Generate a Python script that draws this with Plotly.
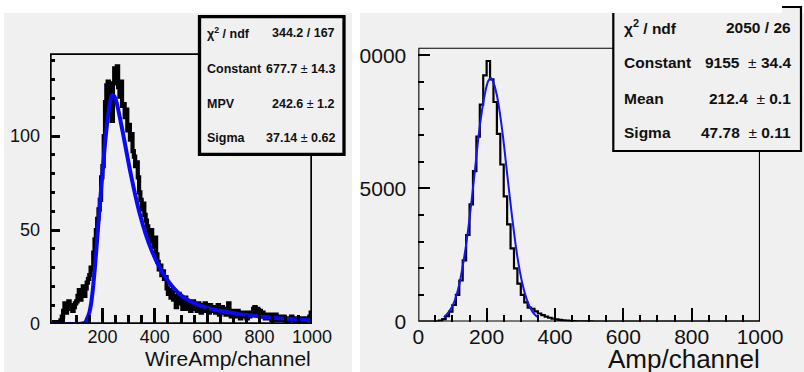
import numpy as np
import plotly.graph_objects as go

W, H = 804, 372
FONT = "Liberation Sans, Arial, Helvetica, sans-serif"
PANEL = "#f0f0f0"

# ---------------- left pad: wire amplitude, 5-unit bins over 0-1000 ----------------
wire_bin_width = 5
wire_counts = [
    0, 0, 0, 1, 0, 1, 0, 1, 2,
    4, 7, 11, 6, 9, 12, 8, 10, 7, 9, 11,
    12, 15, 18, 13, 17, 20, 15, 19, 22, 24,
    26, 30, 29, 38, 45, 50, 56, 61, 66, 78,
    84, 100, 118, 127, 129, 112, 124, 108, 128, 136, 131, 137, 126, 121, 129, 116,
    117, 110, 114, 103,
    106, 98, 101, 92,
    89, 84, 86, 78,
    70, 66, 61, 64, 58, 55,
    52, 48, 45, 50, 44, 41, 46, 37,
    33, 29, 31, 26, 28, 24, 25,
    19, 16, 18, 14, 17, 13, 15,
    9, 14, 16, 11, 13, 8, 12, 14,
    10, 8, 11, 7, 9, 12, 8, 10, 7, 11, 9, 6, 10, 8, 11, 7,
    9, 6, 10, 8, 7, 9, 6, 8, 10, 5, 7, 9, 6, 8, 5, 7, 11, 6, 4, 7,
    5, 6, 4, 7, 5, 3, 6, 5, 4, 6, 3, 5, 4, 6, 5, 8, 9, 6, 8, 5, 7, 4, 6, 5, 3, 5,
    4, 3, 5, 2, 4, 3, 5, 2, 3, 4, 2, 3, 4, 2, 3, 1, 3, 2, 4, 2,
    3, 1, 2, 3, 2, 1, 3, 2, 1, 2, 3, 2, 4, 6,
]
# Landau fit curve sampled along the drawn line
wire_fit_x = [0, 100, 125, 135, 142, 150, 157, 164, 172, 180, 190, 200, 210, 220, 228,
              236, 244, 252, 262, 275, 290, 305, 320, 340, 365, 390, 415, 450, 490,
              530, 600, 700, 800, 900, 1000]
wire_fit_y = [0, 0, 0.3, 1, 3, 6, 11, 19, 31, 45, 63, 80, 96, 109, 117,
              121.5, 121.5, 119, 113, 104, 93, 82, 72, 60, 48, 38.5, 31, 23, 16.5,
              12.5, 8.5, 5.8, 4, 2.8, 2.1]
wire_stat_names = ["χ<sup>2</sup> / ndf", "Constant", "MPV", "Sigma"]
wire_stat_values = ["344.2 / 167", "677.7 ± 14.3", "242.6 ± 1.2", "37.14 ± 0.62"]
wire_tick_labels = [200, 400, 600, 800, 1000]

# ---------------- right pad: amplitude, 10-unit bins over 0-1000 ----------------
amp_bin_width = 10
amp_counts = [
    0, 0, 0, 0, 0, 8, 30, 90, 200, 370,
    620, 1000, 1540, 2300, 3250, 4400, 5650, 6950, 8150, 9250,
    9790, 9100, 8250, 7050, 5900, 4700, 3650, 2750, 2000, 1420,
    1000, 720, 520, 480, 380, 300, 240, 185, 140, 105,
    80, 58, 42, 30, 20, 13, 8, 5, 3, 2,
    1, 0, 0, 0, 0, 0, 0, 0, 0, 0,
    0, 0, 0, 0, 0, 0, 0, 0, 0, 0,
    0, 0, 0, 0, 0, 0, 0, 0, 0, 0,
    0, 0, 0, 0, 0, 0, 0, 0, 0, 0,
    0, 0, 0, 0, 0, 0, 0, 0, 0, 0,
]
# Gaussian fit curve sampled along the drawn line
amp_fit_x = [75, 90, 105, 120, 135, 150, 165, 180, 195, 205, 212.4, 220, 230, 245,
             260, 275, 290, 305, 320, 335, 348]
amp_fit_y = [150, 370, 730, 1400, 2470, 3880, 5600, 7350, 8570, 9045, 9155, 8980, 8500, 7250,
             5560, 3880, 2430, 1400, 740, 350, 170]
amp_stat_names = ["χ<sup>2</sup> / ndf", "Constant", "Mean", "Sigma"]
amp_stat_values = ["2050 / 26", "9155  ± 34.4", "212.4  ± 0.1", "47.78  ± 0.11"]

assert len(wire_counts) == 200 and len(amp_counts) == 100


def px(x):
    return x / W


def py(y):
    return 1 - y / H


def step_xy(counts, width):
    edges = np.arange(len(counts) + 1) * width
    vals = np.append(np.asarray(counts, dtype=float), counts[-1])
    return edges, vals


fig = go.Figure()

wx, wy = step_xy(wire_counts, wire_bin_width)
fig.add_trace(go.Scatter(x=wx, y=wy, mode="lines", line=dict(shape="hv", color="black", width=4.2),
                         xaxis="x", yaxis="y", hoverinfo="skip"))
fig.add_trace(go.Scatter(x=wire_fit_x, y=wire_fit_y, mode="lines",
                         line=dict(shape="spline", smoothing=0.8, color="#0a0af0", width=4),
                         xaxis="x", yaxis="y", hoverinfo="skip"))

ax, ay = step_xy(amp_counts, amp_bin_width)
fig.add_trace(go.Scatter(x=ax, y=ay, mode="lines", line=dict(shape="hv", color="black", width=2.2),
                         xaxis="x2", yaxis="y2", hoverinfo="skip"))
fig.add_trace(go.Scatter(x=amp_fit_x, y=amp_fit_y, mode="lines",
                         line=dict(shape="spline", smoothing=0.8, color="#1414f5", width=2),
                         xaxis="x2", yaxis="y2", hoverinfo="skip"))

axis_common = dict(showgrid=False, zeroline=False, showline=False, ticks="inside",
                   tickcolor="black", fixedrange=True, automargin=False)

fig.update_layout(
    width=W, height=H, margin=dict(l=0, r=0, t=0, b=0, pad=0, autoexpand=False),
    paper_bgcolor="white", plot_bgcolor="rgba(0,0,0,0)", showlegend=False,
    xaxis=dict(**axis_common, domain=[px(50), px(312)], range=[0, 1000], anchor="y",
               tickmode="array", tickvals=wire_tick_labels,
               ticktext=[str(v) for v in wire_tick_labels],
               ticklen=16, tickwidth=3,
               minor=dict(tickmode="linear", tick0=0, dtick=50, ticks="inside",
                          ticklen=9, tickwidth=3, tickcolor="black"),
               tickfont=dict(family=FONT, size=18, color="#111")),
    yaxis=dict(**axis_common, domain=[py(324), py(53.3)], range=[0, 144], anchor="x",
               tickmode="linear", tick0=0, dtick=50, ticklen=10, tickwidth=3,
               ticklabelstandoff=9,
               minor=dict(tickmode="linear", tick0=0, dtick=10, ticks="inside",
                          ticklen=5, tickwidth=3, tickcolor="black"),
               tickfont=dict(family=FONT, size=18, color="#111")),
    xaxis2=dict(**axis_common, domain=[px(418.3), px(760)], range=[0, 1000], anchor="y2",
                tickmode="linear", tick0=0, dtick=200, ticklen=14, tickwidth=2,
                minor=dict(tickmode="linear", tick0=0, dtick=50, ticks="inside",
                           ticklen=7, tickwidth=2, tickcolor="black"),
                tickfont=dict(family=FONT, size=21, color="#111")),
    yaxis2=dict(**axis_common, domain=[py(321.5), py(47.7)], range=[0, 10290], anchor="x2",
                tickmode="linear", tick0=0, dtick=5000, tickformat="d", ticklen=12, tickwidth=2,
                ticklabelstandoff=11,
                minor=dict(tickmode="linear", tick0=0, dtick=1000, ticks="inside",
                           ticklen=6, tickwidth=2, tickcolor="black"),
                tickfont=dict(family=FONT, size=21, color="#111")),
)


def prect(x0, y0, x1, y1, fill=None, line_color=None, line_width=0, layer="above"):
    return dict(type="rect", xref="paper", yref="paper",
                x0=px(x0), x1=px(x1), y0=py(y1), y1=py(y0),
                fillcolor=fill if fill else "rgba(0,0,0,0)",
                line=dict(color=line_color if line_color else "rgba(0,0,0,0)", width=line_width),
                layer=layer)


shapes = [
    # pad backgrounds
    prect(4, 13, 352, 372, fill=PANEL, layer="below"),
    prect(360, 13, 804, 372, fill=PANEL, layer="below"),
    # frames
    dict(type="rect", xref="x", yref="y", x0=0, x1=1000, y0=0, y1=144,
         line=dict(color="black", width=3.4), layer="above"),
    dict(type="rect", xref="x2", yref="y2", x0=0, x1=1000, y0=0, y1=10290,
         line=dict(color="black", width=2.2), layer="above"),
    # the right pad is trimmed on its left edge
    prect(346, 13, 352, 372, fill=PANEL, layer="above"),
    prect(352, 0, 360, 372, fill="white", layer="above"),
    # stat boxes
    prect(199.5, 16.7, 344, 154.3, fill=PANEL, line_color="black", line_width=3.3),
    prect(613.3, 7, 801, 151, fill=PANEL, line_color="black", line_width=2.2),
    # blank strip across the top
    prect(0, 0, 782, 13, fill="white", layer="above"),
    prect(0, 0, 4, 372, fill="white", layer="above"),
]
fig.update_layout(shapes=shapes)

annotations = []
wire_rows = [33, 69, 104, 138]
for name, val, yy in zip(wire_stat_names, wire_stat_values, wire_rows):
    annotations.append(dict(xref="paper", yref="paper", x=px(205), y=py(yy), xanchor="left",
                            yanchor="middle", showarrow=False, text=f"<b>{name}</b>",
                            font=dict(family=FONT, size=12.5, color="#111")))
    annotations.append(dict(xref="paper", yref="paper", x=px(337), y=py(yy), xanchor="right",
                            yanchor="middle", showarrow=False,
                            text="<b>" + val.replace("±", "</b>±<b>") + "</b>",
                            font=dict(family=FONT, size=12.5, color="#111")))
amp_rows = [27, 62.3, 98.3, 132.3]
for name, val, yy in zip(amp_stat_names, amp_stat_values, amp_rows):
    annotations.append(dict(xref="paper", yref="paper", x=px(622), y=py(yy), xanchor="left",
                            yanchor="middle", showarrow=False, text=f"<b>{name}</b>",
                            font=dict(family=FONT, size=15.5, color="#111")))
    annotations.append(dict(xref="paper", yref="paper", x=px(793), y=py(yy), xanchor="right",
                            yanchor="middle", showarrow=False,
                            text="<b>" + val.replace("±", "</b>±<b>") + "</b>",
                            font=dict(family=FONT, size=15.5, color="#111")))

# axis titles, right-aligned to the end of each axis
annotations.append(dict(xref="paper", yref="paper", x=px(313), y=py(358), xanchor="right",
                        yanchor="middle", showarrow=False, text="WireAmp/channel",
                        font=dict(family=FONT, size=21, color="#111")))
annotations.append(dict(xref="paper", yref="paper", x=px(762), y=py(359), xanchor="right",
                        yanchor="middle", showarrow=False, text="Amp/channel",
                        font=dict(family=FONT, size=26, color="#111")))
fig.update_layout(annotations=annotations)

fig.write_html("out.html")
